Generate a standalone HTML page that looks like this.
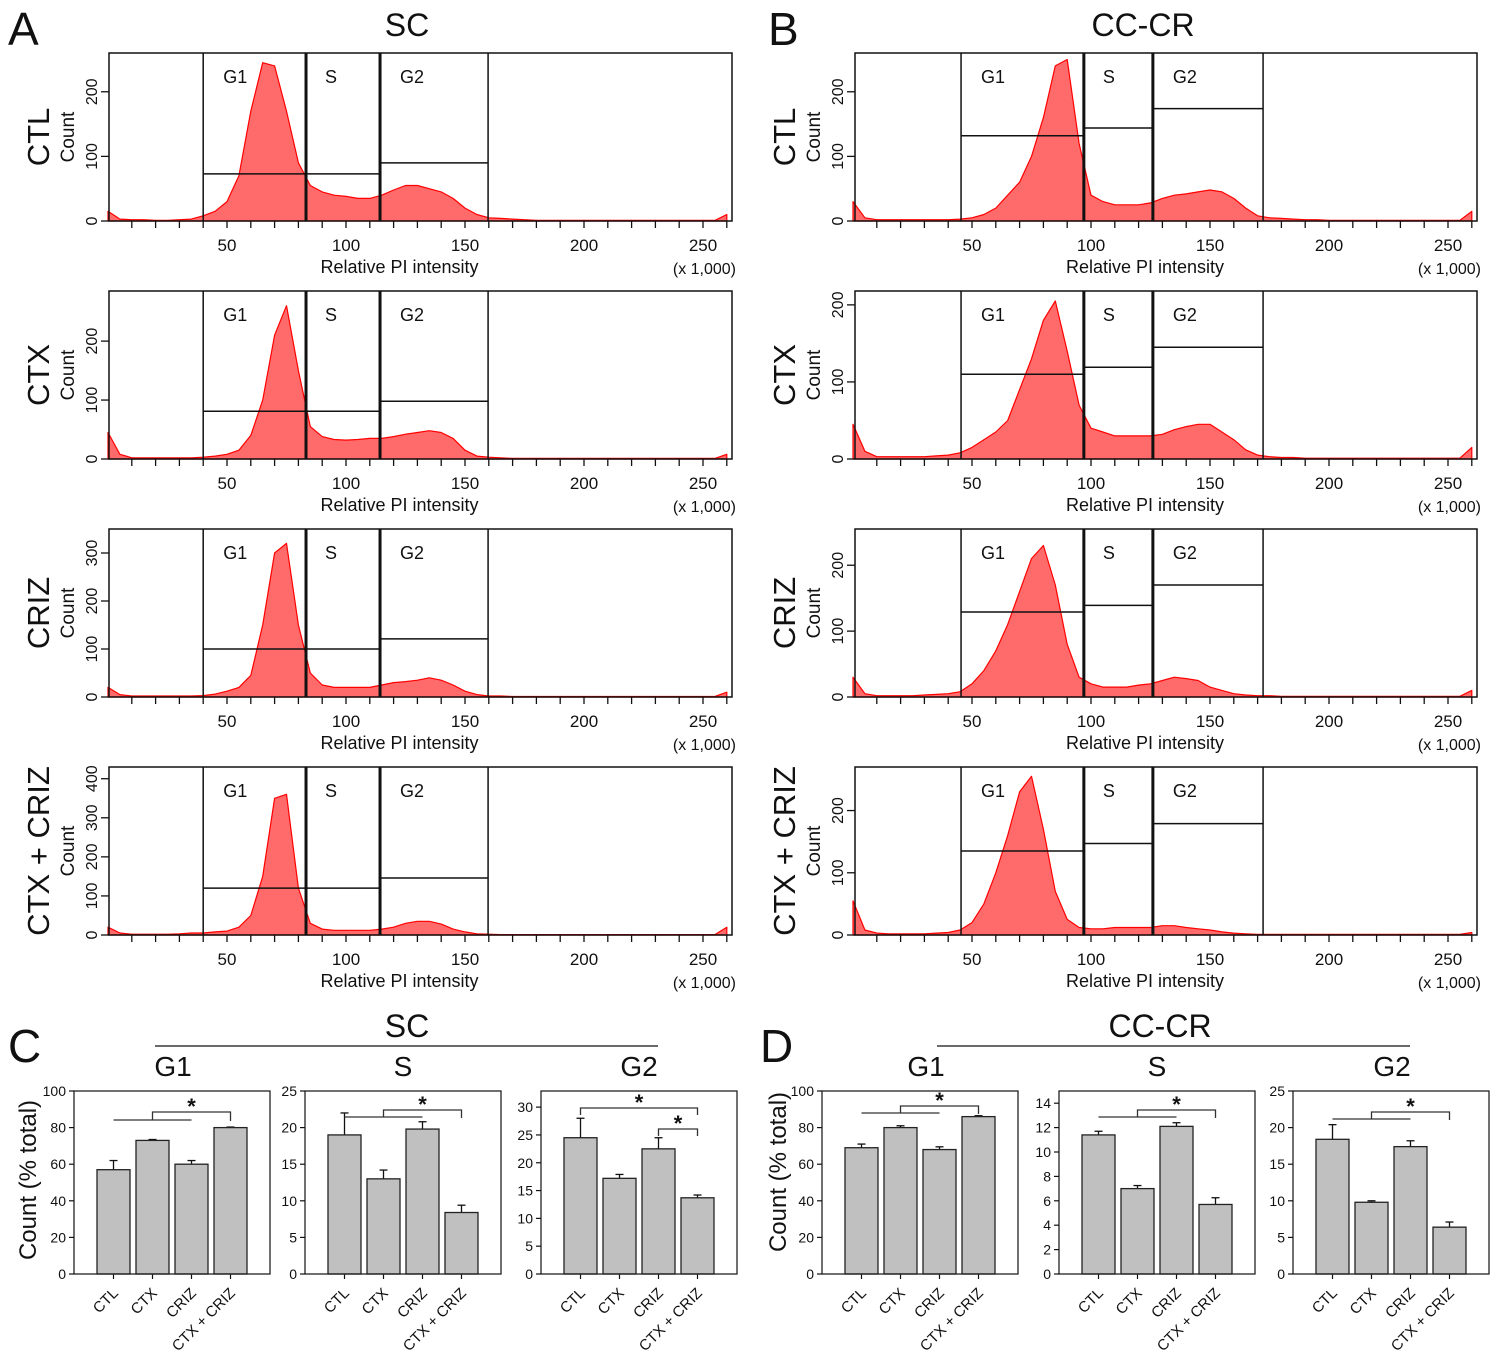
<!DOCTYPE html>
<html><head><meta charset="utf-8"><style>
html,body{margin:0;padding:0;background:#fff}
svg{display:block;font-family:"Liberation Sans",Arial,sans-serif}
</style></head><body>
<svg id="fig" width="1500" height="1360" viewBox="0 0 1500 1360" xmlns="http://www.w3.org/2000/svg">
<g id="root"></g>
</svg>
<script>
// ---------- Histogram data (counts at PI intensity bins, 5-unit steps from 0 to 260) ----------
const binStart = 0, binStep = 5;
const scCTL  = [15,3,2,2,1,1,2,3,8,15,30,70,170,245,240,170,90,55,45,40,38,35,35,40,48,55,55,50,45,35,20,10,5,4,3,2,1,1,1,1,1,1,1,1,1,1,1,1,1,1,1,1,10];
const scCTX  = [45,8,2,2,2,2,2,2,3,5,8,15,40,100,210,260,150,55,38,33,32,33,35,35,38,42,45,48,45,35,15,5,3,2,1,1,1,1,1,1,1,1,1,1,1,1,1,1,1,1,1,1,8];
const scCRIZ = [20,5,2,2,2,2,2,2,3,6,12,20,45,150,300,320,150,50,25,20,20,20,20,25,30,32,35,40,35,25,12,5,2,2,1,1,1,1,1,1,1,1,1,1,1,1,1,1,1,1,1,1,10];
const scCOMB = [20,5,2,2,2,2,3,5,5,8,10,20,50,150,350,360,120,30,15,12,12,12,12,15,20,30,35,35,28,15,8,3,2,1,1,1,1,1,1,1,1,1,1,1,1,1,1,1,1,1,1,1,20];
const ccCTL  = [30,5,2,2,2,2,2,2,2,3,5,10,20,40,60,100,160,240,250,120,40,30,25,25,25,28,35,40,42,45,48,45,35,20,8,5,4,3,2,2,1,1,1,1,1,1,1,1,1,1,1,1,15];
const ccCTX  = [45,10,3,3,3,3,3,4,5,8,15,25,35,50,90,130,180,205,140,70,40,35,30,30,30,30,32,38,42,45,45,35,25,12,5,3,2,2,1,1,1,1,1,1,1,1,1,1,1,1,1,1,15];
const ccCRIZ = [30,5,2,2,2,2,3,4,5,8,20,40,70,110,160,210,230,170,80,30,20,15,15,15,18,20,25,30,28,25,15,10,5,3,2,2,1,1,1,1,1,1,1,1,1,1,1,1,1,1,1,1,10];
const ccCOMB = [55,8,3,2,2,2,2,3,4,8,20,50,100,160,230,255,170,70,25,12,10,10,12,12,12,12,15,15,12,10,8,5,3,2,1,1,1,1,1,1,1,1,1,1,1,1,1,1,1,1,1,1,4];
// gate boundaries (PI units) and gate marker levels (counts: G1, S, G2)
const scGates = [40, 83.2, 114.3, 159.7];
const ccGates = [45.4, 97, 126, 172.3];
const scMarkers = [[73,73,90],[81,81,98],[100,100,121],[120,120,146]];
const ccMarkers = [[132,144,174],[110,119,145],[129,139,170],[135,147,179]];
const scYMax = [260, 285, 350, 430];
const ccYMax = [260, 218, 255, 270];
const scYTicks = [[0,100,200],[0,100,200],[0,100,200,300],[0,100,200,300,400]];
const ccYTicks = [[0,100,200],[0,100,200],[0,100,200],[0,100,200]];
const rowLabels = ["CTL","CTX","CRIZ","CTX + CRIZ"];
const xTickLabels = [50,100,150,200,250];

// ---------- Bar chart data ----------
const groups = ["CTL","CTX","CRIZ","CTX + CRIZ"];
const scG1 = [57,73,60,80], scG1Err = [5,0.5,2,0.3];
const scS  = [19,13,19.8,8.4], scSErr = [3,1.2,1,1];
const scG2 = [24.5,17.2,22.5,13.7], scG2Err = [3.5,0.7,2,0.5];
const ccG1 = [69,80,68,86], ccG1Err = [2,1,1.5,0.5];
const ccS  = [11.4,7,12.1,5.7], ccSErr = [0.3,0.25,0.3,0.55];
const ccG2 = [18.4,9.8,17.4,6.4], ccG2Err = [2,0.2,0.8,0.7];
const ticksG1 = [0,20,40,60,80,100];
const ticksS25 = [0,5,10,15,20,25];
const ticksG2_30 = [0,5,10,15,20,25,30];
const ticksS14 = [0,2,4,6,8,10,12,14];
const ticksG2_25 = [0,5,10,15,20,25];

const NS = "http://www.w3.org/2000/svg";
const root = document.getElementById('root');
function mk(tag, attrs, parent, text){
  const e = document.createElementNS(NS, tag);
  for (const k in attrs) e.setAttribute(k, attrs[k]);
  if (text !== undefined) e.textContent = text;
  (parent||root).appendChild(e);
  return e;
}
function line(g,x1,y1,x2,y2,w){
  const l = mk('line',{x1:x1,y1:y1,x2:x2,y2:y2,stroke:'#111','stroke-width':w||1.3},g);
  return l;
}
function txt(g,x,y,s,size,anchor,rot){
  const t = mk('text',{x:x,y:y,'font-size':size,'text-anchor':anchor||'middle',fill:'#111'},g,s);
  if (rot) t.setAttribute('transform','rotate('+rot+' '+x+' '+y+')');
  return t;
}

// Panel letters & titles
[['A',8,45],['B',768,45],['C',8,1062],['D',760,1062]].forEach(p=>{
  const t = txt(root,p[1],p[2],p[0],46,'start');
  
  
});
let t1 = txt(root,407,36,'SC',32);


let t2 = txt(root,1143,36,'CC-CR',32);



function histogram(opt){
  const g = mk('g',{});
  
  
  const top = opt.top, bot = opt.top+168, x0 = opt.x0, left = opt.left, right = opt.right;
  const sx = v => x0 + v*2.38;
  const sy = c => bot - c*(168/opt.ymax);
  let d = 'M'+sx(binStart).toFixed(1)+','+bot;
  opt.data.forEach((c,i)=>{ d += ' L'+sx(binStart+i*binStep).toFixed(1)+','+sy(Math.min(c,opt.ymax)).toFixed(1); });
  d += ' L'+sx(binStart+(opt.data.length-1)*binStep).toFixed(1)+','+bot+' Z';
  const a = mk('path',{d:d,fill:'#ff6b6b',stroke:'#ff0000','stroke-width':1.2,'stroke-linejoin':'round'},g);
  
  
  const b = mk('rect',{x:left,y:top,width:right-left,height:168,fill:'none',stroke:'#111','stroke-width':1.5},g);
  
  
  opt.gates.forEach((v,i)=>{
    const l = line(g,sx(v),top,sx(v),bot,(i==1||i==2)?3:1.5);
    
    
  });
  ['G1','S','G2'].forEach((lab,i)=>{
    const xa = sx(opt.gates[i]), xb = sx(opt.gates[i+1]);
    const m = line(g,xa,sy(opt.markers[i]),xb,sy(opt.markers[i]),1.5);
    
    
    const lx = lab=='S' ? (xa+25) : (xa+32);
    const gt = txt(g,lx,top+30,lab,18);
    
    
  });
  for (let v=10; v<=260; v+=10){
    const xx = sx(v); if (xx>right) break;
    const tk = line(g,xx,bot,xx,bot+7,1.3);
    
    
  }
  xTickLabels.forEach(v=>{
    const tl = txt(g,sx(v),bot+30,String(v),17);
    
    
  });
  const xt = txt(g,(left+right)/2-21,bot+52,'Relative PI intensity',18);
  
  
  const xs = txt(g,right+4,bot+53,'(x 1,000)',16,'end');
  
  
  opt.yticks.forEach(v=>{
    const yy = sy(v);
    const tk = line(g,left-8,yy,left,yy,1.3);
    
    
    const tl = txt(g,left-12,yy,String(v),16,'middle',-90);
    
    
  });
  const yt = txt(g,left-35,top+84,'Count',19,'middle',-90);
  
  
  const rl = txt(g,left-60,top+84,opt.row,31,'middle',-90);
  
  
}
const scData = [scCTL,scCTX,scCRIZ,scCOMB], ccData = [ccCTL,ccCTX,ccCRIZ,ccCOMB];
const rowKeys = ['ctl','ctx','criz','ctx-criz'];
for (let r=0;r<4;r++){
  const top = 53 + r*238;
  histogram({name:'sc-histogram-'+rowKeys[r],top:top,x0:108,left:109,right:732,data:scData[r],gates:scGates,markers:scMarkers[r],ymax:scYMax[r],yticks:scYTicks[r],row:rowLabels[r]});
  histogram({name:'cc-histogram-'+rowKeys[r],top:top,x0:853,left:855,right:1477,data:ccData[r],gates:ccGates,markers:ccMarkers[r],ymax:ccYMax[r],yticks:ccYTicks[r],row:rowLabels[r]});
}

// ---------- Bar charts ----------
function barChart(opt){
  const g = mk('g',{});
  
  
  const top=1091, bot=1274, left=opt.left, w=196;
  const sy = v => bot - v*(bot-top)/opt.ymax;
  const bx = i => left + 23 + 39*i;
  opt.vals.forEach((v,i)=>{
    const e = opt.errs[i];
    const el = line(g,bx(i)+16.5,sy(v),bx(i)+16.5,sy(v+e),1.3);
    
    
    const ec = line(g,bx(i)+12.5,sy(v+e),bx(i)+20.5,sy(v+e),1.3);
    
    
    const r = mk('rect',{x:bx(i),y:sy(v),width:33,height:bot-sy(v),fill:'#c0c0c0',stroke:'#222','stroke-width':1.3},g);
    
    
    const xt = line(g,bx(i)+16.5,bot,bx(i)+16.5,bot+5,1.2);
    
    
    const lx = bx(i)+22, ly = bot+20;
    const tl = txt(g,lx,ly,groups[i],15,'end',-45);
    
    
  });
  const f = mk('rect',{x:left,y:top,width:w,height:bot-top,fill:'none',stroke:'#222','stroke-width':1.3},g);
  
  
  opt.ticks.forEach(v=>{
    const tk = line(g,left-5,sy(v),left,sy(v),1.2);
    
    
    const tl = txt(g,left-8,sy(v)+5,String(v),14,'end');
    
    
  });
  const c = i => bx(i)+16.5;
  opt.brackets.forEach(bk=>{
    const y1 = bk.y1, y2 = bk.y2;
    let p;
    if (bk.type==='group'){
      p = 'M'+c(0)+','+y1+' H'+c(2)+' M'+c(1)+','+y1+' V'+y2+' H'+c(3)+' V'+(y1+1);
    } else {
      p = 'M'+c(bk.a)+','+(y2+7)+' V'+y2+' H'+c(bk.b)+' V'+(y2+7);
    }
    const pe = mk('path',{d:p,fill:'none',stroke:'#333','stroke-width':1.3},g);
    
    
    const sx = bk.type==='group' ? c(2) : (c(bk.a)+c(bk.b))/2;
    const st = txt(g,sx,y2+2,'*',22);
    st.setAttribute('font-weight','bold');
    
    
  });
  const tt = txt(g,opt.titleX,1076,opt.title,28);
  
  
}
barChart({name:'sc-g1-bar-chart',left:74,ymax:100,vals:scG1,errs:scG1Err,ticks:ticksG1,title:'G1',titleX:173,brackets:[{type:'group',y1:1120,y2:1112}]});
barChart({name:'sc-s-bar-chart',left:305,ymax:25,vals:scS,errs:scSErr,ticks:ticksS25,title:'S',titleX:403,brackets:[{type:'group',y1:1117,y2:1110}]});
barChart({name:'sc-g2-bar-chart',left:541,ymax:32.9,vals:scG2,errs:scG2Err,ticks:ticksG2_30,title:'G2',titleX:639,brackets:[{type:'pair',a:0,b:3,y2:1108},{type:'pair',a:2,b:3,y2:1129}]});
barChart({name:'cc-g1-bar-chart',left:822,ymax:100,vals:ccG1,errs:ccG1Err,ticks:ticksG1,title:'G1',titleX:926,brackets:[{type:'group',y1:1113,y2:1106}]});
barChart({name:'cc-s-bar-chart',left:1059,ymax:15,vals:ccS,errs:ccSErr,ticks:ticksS14,title:'S',titleX:1157,brackets:[{type:'group',y1:1117,y2:1110}]});
barChart({name:'cc-g2-bar-chart',left:1293,ymax:25,vals:ccG2,errs:ccG2Err,ticks:ticksG2_25,title:'G2',titleX:1392,brackets:[{type:'group',y1:1119,y2:1112}]});

let l1 = line(root,155,1046,658,1046,1.3);


let l2 = line(root,937,1046,1410,1046,1.3);


let g1t = txt(root,407,1037,'SC',32);


let g2t = txt(root,1160,1037,'CC-CR',32);


let ya = txt(root,36,1180,'Count (% total)',24,'middle',-90);


let yb = txt(root,786,1172,'Count (% total)',24,'middle',-90);


</script>
</body></html>
